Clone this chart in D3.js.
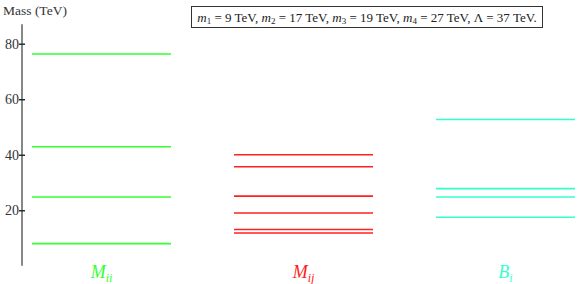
<!DOCTYPE html>
<html>
<head>
<meta charset="utf-8">
<script src="https://cdn.jsdelivr.net/npm/d3@7"></script>
<style>
  body { margin: 0; background: #fff; }
</style>
</head>
<body>
<div class="canvas"></div>
<script>
// spectrum levels (TeV)
const groups = ['Mii', 'Mij', 'Bi'];
const miiValues = [76.3, 42.9, 24.8, 8.0];
const mijValues = [40.0, 35.7, 25.1, 19.0, 13.1, 11.8];
const biValues = [52.7, 27.8, 24.8, 17.5];
const yTicks = [20, 40, 60, 80];
const groupColors = ['#33ff33', '#ff2020', '#33ffcc'];
const groupLabels = [['M', 'ii'], ['M', 'ij'], ['B', 'i']];
const seriesValues = [miiValues, mijValues, biValues];

const serif = "'Liberation Serif', 'DejaVu Serif', serif";

const svg = d3.select('.canvas').append('svg')
    .attr('width', 578)
    .attr('height', 284)
    .style('font-family', serif);

const y = d3.scaleLinear()
    .domain([0, 80])
    .range([265.8, 43.7]);

// band positions for the three columns
const x = d3.scaleOrdinal()
    .domain(groups)
    .range([[32, 171], [234, 373], [436, 575]]);

const yAxis = d3.axisLeft(y)
    .tickValues(yTicks)
    .tickSize(4)
    .tickSizeOuter(0);

const axisG = svg.append('g')
    .attr('transform', 'translate(22, 0)')
    .call(yAxis)
    .attr('font-family', null)
    .style('font-family', serif)
    .attr('font-size', 14);

axisG.select('.domain')
    .attr('d', `M0,${y(0)}V${y(87)}`)
    .attr('stroke', '#555')
    .attr('stroke-width', 1.4);

axisG.selectAll('.tick line')
    .attr('x1', -3)
    .attr('x2', 3)
    .attr('stroke', '#222')
    .attr('stroke-width', 1.4);

axisG.selectAll('.tick text')
    .attr('x', -3)
    .attr('fill', '#333');

svg.append('text')
    .attr('x', 3)
    .attr('y', 15)
    .attr('font-size', 13.5)
    .attr('fill', '#333')
    .text('Mass (TeV)');

// level lines
groups.forEach((g, i) => {
  const [x0, x1] = x(g);
  svg.append('g')
    .selectAll('line')
    .data(seriesValues[i])
    .join('line')
      .attr('x1', x0)
      .attr('x2', x1)
      .attr('y1', d => y(d))
      .attr('y2', d => y(d))
      .attr('stroke', groupColors[i])
      .attr('stroke-width', 1.6);

  const lbl = svg.append('text')
    .attr('x', (x0 + x1) / 2)
    .attr('y', 278)
    .attr('text-anchor', 'middle')
    .attr('fill', groupColors[i])
    .style('font-style', 'italic');
  lbl.append('tspan')
    .attr('font-size', 18)
    .text(groupLabels[i][0]);
  lbl.append('tspan')
    .attr('font-size', 12)
    .attr('dy', 4)
    .text(groupLabels[i][1]);
});

// parameter box
svg.append('rect')
    .attr('x', 191.5)
    .attr('y', 6.5)
    .attr('width', 351)
    .attr('height', 21)
    .attr('fill', 'white')
    .attr('stroke', '#333')
    .attr('stroke-width', 1);

const params = [['m', '1', ' = 9 TeV, '], ['m', '2', ' = 17 TeV, '], ['m', '3', ' = 19 TeV, '], ['m', '4', ' = 27 TeV, '], ['Λ', '', ' = 37 TeV.']];
const pt = svg.append('text')
    .attr('x', 367)
    .attr('y', 21.5)
    .attr('text-anchor', 'middle')
    .attr('font-size', 13)
    .attr('fill', '#222');
params.forEach(p => {
  pt.append('tspan').style('font-style', p[0] === 'm' ? 'italic' : 'normal').text(p[0]);
  if (p[1]) pt.append('tspan').attr('font-size', 9).attr('dy', 2).text(p[1]);
  pt.append('tspan').attr('dy', p[1] ? -2 : 0).text(p[2]);
});
</script>
</body>
</html>
